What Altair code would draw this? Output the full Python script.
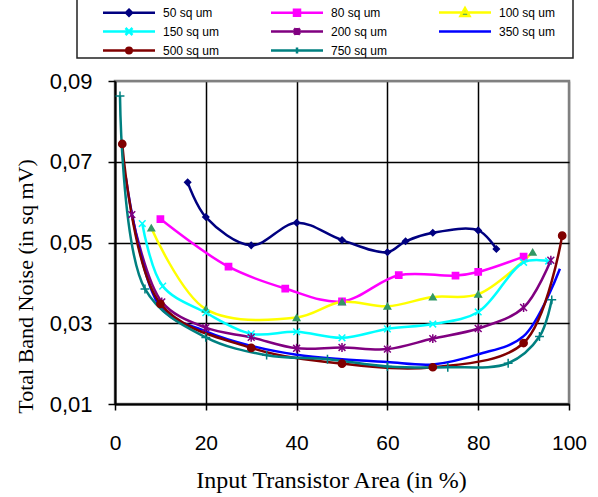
import altair as alt
import pandas as pd

series_names = ["50 sq um", "80 sq um", "100 sq um", "150 sq um",
                "200 sq um", "350 sq um", "500 sq um", "750 sq um"]

x_50 = [16, 20, 30, 40, 50, 60, 64, 70, 80, 84]
y_50 = [0.0649, 0.0563, 0.0493, 0.0549, 0.0506, 0.0476, 0.0503, 0.0524, 0.0530, 0.0484]
x_80 = [10, 25, 37.5, 50, 62.5, 75, 80, 90]
y_80 = [0.0558, 0.0440, 0.0386, 0.0354, 0.0419, 0.0418, 0.0427, 0.0465]
x_100 = [8, 20, 40, 50, 60, 70, 80, 92]
y_100 = [0.0536, 0.0335, 0.0314, 0.0353, 0.0342, 0.0365, 0.0372, 0.0476]
x_150 = [6, 10.5, 20, 30, 40, 50, 60, 70, 80, 90, 95.5]
y_150 = [0.0547, 0.0392, 0.0326, 0.0274, 0.0279, 0.0264, 0.0286, 0.0298, 0.0328, 0.0451, 0.0454]
x_200 = [3.7, 10.3, 20, 30, 40, 50, 60, 70, 80, 90, 96]
y_200 = [0.0569, 0.0353, 0.0289, 0.0265, 0.0238, 0.0240, 0.0236, 0.0262, 0.0287, 0.0339, 0.0456]
x_350 = [2.4, 10, 20, 30, 40, 50, 60, 70, 80, 90, 98]
y_350 = [0.0660, 0.0340, 0.0280, 0.0244, 0.0222, 0.0211, 0.0204, 0.0198, 0.0223, 0.0268, 0.0435]
x_500 = [1.6, 10, 30, 50, 70, 90, 98.5]
y_500 = [0.0744, 0.0348, 0.0239, 0.0200, 0.0191, 0.0251, 0.0517]
x_750 = [1.1, 6.6, 20, 33.4, 46.8, 60, 73.3, 86.6, 93.5, 96.2]
y_750 = [0.0863, 0.0385, 0.0265, 0.0221, 0.0211, 0.0193, 0.0191, 0.0201, 0.0267, 0.0358]

x_ticks = [0, 20, 40, 60, 80, 100]
y_ticks = [0.01, 0.03, 0.05, 0.07, 0.09]

line_colors = ["#000080", "#FF00FF", "#FFFF00", "#00FFFF",
               "#800080", "#0000FF", "#800000", "#008080"]
marker_colors = ["#000080", "#FF00FF", "#339966", "#00FFFF",
                 "#800080", "#0000FF", "#800000", "#008080"]
marker_shapes = ["diamond", "square", "triangle-up",
                 "M-1,-1L1,1M-1,1L1,-1",
                 "M-1,-1L1,1M-1,1L1,-1M0,-1.3V1.3",
                 "M0,0",
                 "circle",
                 "M-1.2,0H1.2M0,-1.2V1.2"]
marker_sizes = [36, 55, 55, 45, 36, 0, 45, 36]

LINE = "M-1.3,0H9.1"
legend_shapes = [
    LINE + "M3.9,-0.6L4.5,0L3.9,0.6L3.3,0Z",
    LINE + "M3.3,-0.6H4.5V0.6H3.3Z",
    LINE + "M3.9,-0.9L4.8,0.7H3.0Z",
    LINE + "M3.2,-0.7L4.6,0.7M3.2,0.7L4.6,-0.7",
    LINE + "M3.3,-0.6L4.5,0.6M3.3,0.6L4.5,-0.6M3.9,-0.7V0.7",
    LINE,
    LINE + "M3.35,0A0.55,0.55 0 1,0 4.45,0A0.55,0.55 0 1,0 3.35,0Z",
    LINE + "M3.3,0H4.5M3.9,-0.6V0.6",
]

xs = [x_50, x_80, x_100, x_150, x_200, x_350, x_500, x_750]
ys = [y_50, y_80, y_100, y_150, y_200, y_350, y_500, y_750]
rows = []
for name, xv, yv in zip(series_names, xs, ys):
    for a, b in zip(xv, yv):
        rows.append({"series": name, "x": a, "y": b})
df = pd.DataFrame(rows)

x_axis = alt.Axis(
    values=x_ticks, title="Input Transistor Area (in %)", grid=True,
    gridColor={"condition": {"test": "datum.value > 99", "value": "#808080"}, "value": "black"},
    gridWidth=1.5, domainColor="black", domainWidth=2, tickColor="black",
    tickWidth=1.5, tickSize=6, labelFont="Liberation Sans", labelFontSize=21,
    labelColor="black", labelPadding=22, labelFlush=False, labelOverlap=False,
    titleFont="Liberation Serif", titleFontSize=24, titleFontWeight="normal",
    titleColor="black", titleX=216, titleY=76, titleBaseline="middle",
)
y_axis = alt.Axis(
    values=y_ticks, title="Total Band Noise (in sq mV)", grid=True,
    labelExpr="replace(format(datum.value, '.2f'), '.', ',')",
    gridColor={"condition": {"test": "datum.value > 0.089", "value": "#808080"}, "value": "black"},
    gridWidth=1.5, domainColor="black", domainWidth=2, tickColor="black",
    tickWidth=1.5, tickSize=7, labelFont="Liberation Sans", labelFontSize=22,
    labelColor="black", labelPadding=16, labelFlush=False, labelOverlap=False,
    titleFont="Liberation Serif", titleFontSize=22, titleFontWeight="normal",
    titleColor="black", titleX=-90, titleY=205, titleBaseline="middle",
)

xenc = alt.X("x:Q", scale=alt.Scale(domain=[0, 100], nice=False, zero=False), axis=x_axis)
yenc = alt.Y("y:Q", scale=alt.Scale(domain=[0.01, 0.09], nice=False, zero=False), axis=y_axis)

base = alt.Chart(df)

lines = base.mark_line(interpolate="catmull-rom", strokeWidth=2.5).encode(
    x=xenc, y=yenc,
    color=alt.Color("series:N", scale=alt.Scale(domain=series_names, range=line_colors), legend=None),
)

points = base.mark_point(filled=True, opacity=1, strokeWidth=1.5).transform_filter(
    "datum.series != '350 sq um'"
).encode(
    x=xenc, y=yenc,
    shape=alt.Shape("series:N", scale=alt.Scale(domain=series_names, range=marker_shapes), legend=None),
    fill=alt.Fill("series:N", scale=alt.Scale(domain=series_names, range=marker_colors), legend=None),
    stroke=alt.Stroke("series:N", scale=alt.Scale(domain=series_names, range=marker_colors), legend=None),
    size=alt.Size("series:N", scale=alt.Scale(domain=series_names, range=marker_sizes), legend=None),
)

leg_kw = dict(orient="none", direction="horizontal", legendX=-12, legendY=-75, columns=3,
              title=None, labelFont="Liberation Sans", labelFontSize=12, labelColor="black",
              symbolSize=100, symbolStrokeWidth=2.5, labelOffset=47,
              columnPadding=46, rowPadding=2, padding=0, labelLimit=0)

legend_layer = base.mark_point(filled=True, opacity=1).transform_filter("false").encode(
    shape=alt.Shape("series:N", scale=alt.Scale(domain=series_names, range=legend_shapes),
                    legend=alt.Legend(**leg_kw)),
    fill=alt.Fill("series:N", scale=alt.Scale(domain=series_names, range=marker_colors),
                  legend=alt.Legend(**leg_kw)),
    stroke=alt.Stroke("series:N", scale=alt.Scale(domain=series_names, range=line_colors),
                      legend=alt.Legend(**leg_kw)),
)

frame = alt.Chart(pd.DataFrame({"f": [0]})).mark_rect(
    filled=False, stroke="#222222", strokeWidth=1.5
).encode(x=alt.value(-38), x2=alt.value(458), y=alt.value(-110), y2=alt.value(-23))

chart = alt.layer(lines, points, legend_layer, frame).resolve_scale(
    shape="independent", fill="independent", stroke="independent",
    size="independent", color="independent",
).properties(
    width=454, height=323,
    autosize=alt.AutoSizeParams(type="none"),
    padding={"left": 115, "top": 81, "right": 29, "bottom": 93},
).configure_view(stroke="#808080", strokeWidth=2.5)

chart.save("out.html", embed_options={"renderer": "svg", "actions": False})
